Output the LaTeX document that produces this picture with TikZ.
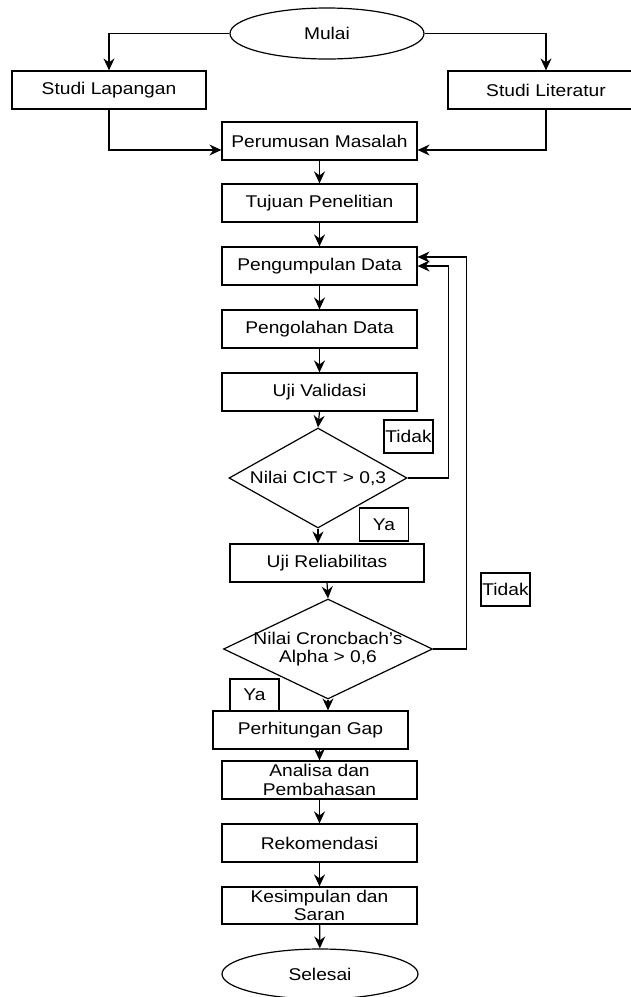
\documentclass[tikz,border=0pt]{standalone}
\usepackage{fontspec}
\setmainfont[FakeStretch=1.13]{Liberation Sans}
\usetikzlibrary{shapes.geometric,arrows.meta}
\begin{document}
\begin{tikzpicture}[x=1pt,y=-1pt,
  every node/.style={font=\fontsize{17}{18.5}\selectfont},
  box/.style={draw, line width=1.2pt, minimum width=195pt, minimum height=38pt, inner sep=0pt, align=center},
  term/.style={draw, ellipse, line width=1.2pt, minimum width=194pt, minimum height=51pt, inner sep=0pt},
  decide/.style={draw, diamond, line width=1.2pt, inner sep=0pt},
  tag/.style={draw, line width=1.1pt, inner sep=1pt, minimum height=33pt, minimum width=49pt},
  arr/.style={line width=1.2pt, -{Stealth[length=12pt,width=11pt,inset=4pt]}},
  link/.style={line width=1.2pt}]
\useasboundingbox (0,0) rectangle (631,997);
\clip (0,0) rectangle (631,997);
\fill[white] (0,0) rectangle (631,997);

\node[term] (mulai) at (327,33.5) {Mulai};
\node[box, minimum width=194pt] (lap) at (109,90) {Studi Lapangan};
\node[box, minimum width=196pt] (lit) at (546,90) {Studi Literatur};
\node[box] (rumus) at (319.5,141) {Perumusan Masalah};
\node[box] (tujuan) at (319.5,203) {Tujuan Penelitian};
\node[box] (kumpul) at (319.5,266) {Pengumpulan Data};
\node[box] (olah) at (319.5,329) {Pengolahan Data};
\node[box] (valid) at (319.5,392) {Uji Validasi};
\node[decide, minimum width=178pt, minimum height=100pt,
      label={center:Nilai CICT > 0,3}] (d1) at (318,478) {};
\node[tag] (tidak1) at (408.5,436.5) {Tidak};
\node[tag] (ya1) at (384,524.5) {Ya};
\node[box, minimum width=194pt] (reli) at (327,563) {Uji Reliabilitas};
\node[decide, minimum width=209pt, minimum height=100pt,
      label={[align=center]center:Nilai Croncbach's\\Alpha > 0,6}] (d2) at (328,649) {};
\node[tag] (tidak2) at (505.5,589.5) {Tidak};
\node[tag, minimum height=32pt] (ya2) at (254.5,695) {Ya};
\node[box] (gap) at (310.5,730) {Perhitungan Gap};
\node[box] (analisa) at (319.5,780) {Analisa dan\\Pembahasan};
\node[box] (rekom) at (319.5,843) {Rekomendasi};
\node[box, minimum height=37pt] (simpul) at (319.5,905.5) {Kesimpulan dan\\Saran};
\node[term, minimum width=196pt, minimum height=50pt] (selesai) at (320,974) {Selesai};

\draw[arr] (mulai.west) -| (lap.north);
\draw[arr] (mulai.east) -| (lit.north);
\draw[arr] (lap.south) |- ([yshift=-9pt]rumus.west);
\draw[arr] (lit.south) |- ([yshift=-9pt]rumus.east);
\draw[arr] (rumus) -- (tujuan);
\draw[arr] (tujuan) -- (kumpul);
\draw[arr] (kumpul) -- (olah);
\draw[arr] (olah) -- (valid);
\draw[arr] (valid.south) -- (d1.north);
\draw[arr] (d1.east) -- ++(41,0) |- (kumpul.east);
\draw[arr] (d2.east) -- ++(33,0) |- ([yshift=9pt]kumpul.east);
\draw[arr] (d1.south) -- (d1.south |- reli.north);
\draw[arr] (reli.south) -- (d2.north);
\draw[arr] (d2.south) -- (d2.south |- gap.north);
\draw[arr] (analisa.north |- gap.south) -- (analisa.north);
\draw[arr] (analisa) -- (rekom);
\draw[arr] (rekom) -- (simpul);
\draw[arr] (simpul) -- (selesai);
\end{tikzpicture}
\end{document}
